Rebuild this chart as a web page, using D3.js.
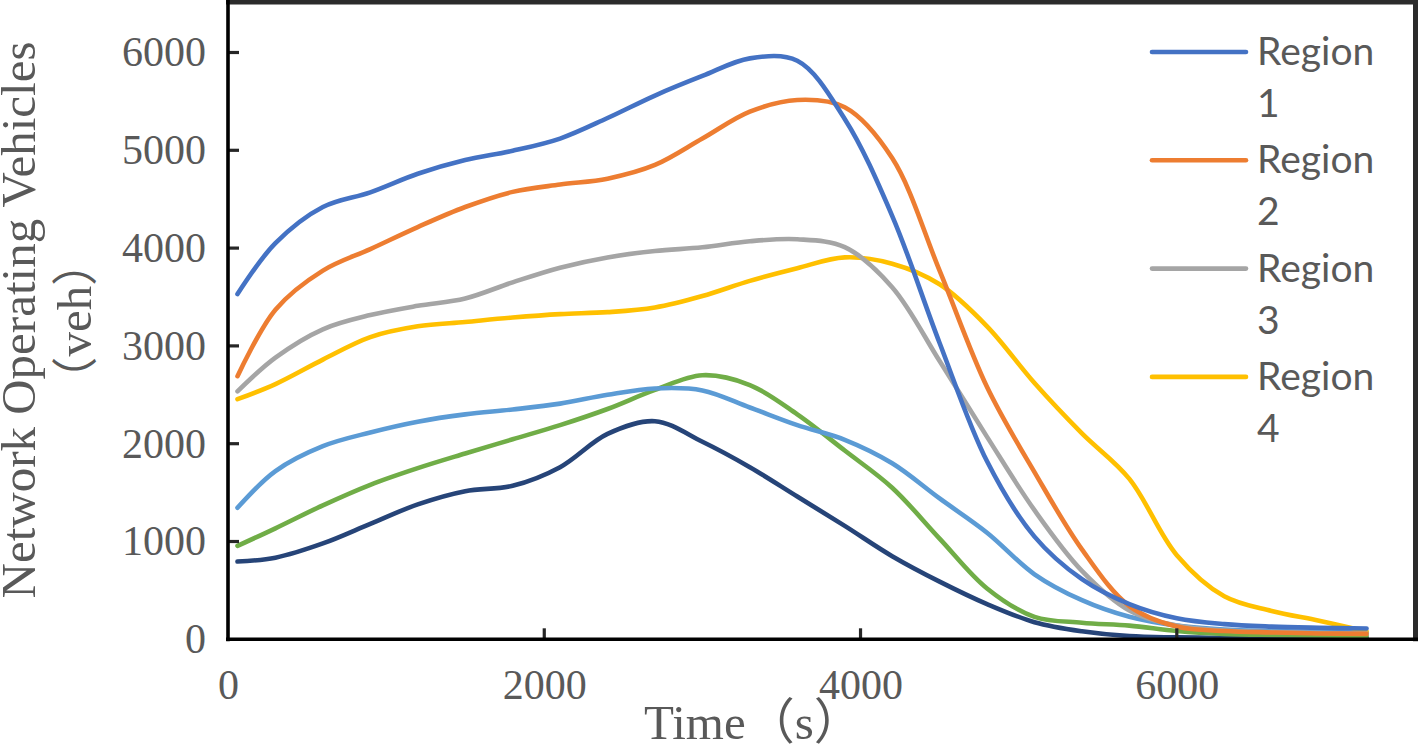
<!DOCTYPE html>
<html>
<head>
<meta charset="utf-8">
<script src="https://cdn.jsdelivr.net/npm/d3@7/dist/d3.min.js"></script>
<style>
  html, body { margin: 0; padding: 0; background: #fff; }
  svg { display: block; }
</style>
</head>
<body>
<svg id="chart" width="1418" height="744"></svg>
<script>
// ---- data ----
const times = [60, 300, 600, 900, 1200, 1500, 1800, 2100, 2400, 2700, 3000, 3300, 3600, 3900,
               4200, 4500, 4800, 5100, 5400, 5700, 6000, 6300, 6600, 6900, 7200];

const region1 = [3530, 4050, 4420, 4570, 4760, 4900, 4995, 5120, 5330, 5560, 5760, 5940, 5915, 5320,
                 4330, 3030, 1820, 1050, 615, 360, 215, 155, 130, 118, 110];
const region2 = [2690, 3370, 3770, 3990, 4215, 4420, 4575, 4650, 4710, 4850, 5120, 5395, 5515, 5440,
                 4920, 3770, 2580, 1710, 920, 340, 130, 85, 70, 60, 55];
const region3 = [2535, 2880, 3170, 3315, 3410, 3485, 3650, 3800, 3905, 3970, 4008, 4070, 4090, 4010,
                 3600, 2845, 2070, 1320, 700, 295, 140, 90, 75, 65, 60];
const region4 = [2455, 2610, 2860, 3090, 3200, 3245, 3290, 3325, 3345, 3393, 3510, 3665, 3795, 3905,
                 3840, 3630, 3200, 2620, 2105, 1640, 860, 440, 290, 190, 80];
const region5 = [1345, 1720, 1975, 2115, 2225, 2300, 2350, 2410, 2500, 2565, 2545, 2370, 2190, 2040,
                 1800, 1440, 1090, 665, 400, 230, 140, 100, 85, 75, 70];
const region6 = [955, 1135, 1370, 1580, 1750, 1900, 2045, 2190, 2355, 2550, 2700, 2600, 2300, 1930,
                 1550, 1030, 520, 230, 170, 140, 85, 55, 45, 40, 35];
const region7 = [795, 835, 980, 1180, 1380, 1515, 1570, 1760, 2100, 2230, 2020, 1760, 1460, 1160,
                 850, 590, 360, 175, 82, 32, 20, 15, 15, 15, 15];

const seriesNames = ["Region 1", "Region 2", "Region 3", "Region 4", "Region 5", "Region 6", "Region 7"];
const seriesValues = [region1, region2, region3, region4, region5, region6, region7];
const seriesColors = ["#4472C4", "#ED7D31", "#A5A5A5", "#FFC000", "#5B9BD5", "#70AD47", "#264478"];
const legendCount = 4;   // only the first four appear in the legend

const xTicks = [0, 2000, 4000, 6000];
const yTicks = [0, 1000, 2000, 3000, 4000, 5000, 6000];
const xDomain = [0, 7500];
const yDomain = [0, 6500];

// ---- layout ----
const svg = d3.select("#chart");
const plotLeft = 228, plotRight = 1414, plotTop = 3.6, plotBottom = 639.3;

const x = d3.scaleLinear().domain(xDomain).range([plotLeft, plotRight]);
const y = d3.scaleLinear().domain(yDomain).range([plotBottom, plotTop]);

const labelColor = "#595959";
const serif = "'Liberation Serif', 'Times New Roman', serif";
const cjk = "'Noto Sans CJK SC', 'Noto Sans CJK JP', sans-serif";

// frame (top and right borders)
svg.append("line").attr("x1", plotLeft - 2).attr("x2", 1418).attr("y1", 2.3).attr("y2", 2.3)
   .attr("stroke", "#2b2b2b").attr("stroke-width", 4.6);
svg.append("line").attr("x1", 1415.5).attr("x2", 1415.5).attr("y1", 0).attr("y2", plotBottom + 2)
   .attr("stroke", "#2b2b2b").attr("stroke-width", 5);

// series lines
const line = d3.line()
  .x((d, i) => x(times[i]))
  .y(d => y(d))
  .curve(d3.curveCatmullRom.alpha(0.5));

const drawOrder = [6, 5, 4, 3, 2, 1, 0];
svg.append("g").selectAll("path")
  .data(drawOrder)
  .join("path")
  .attr("d", i => line(seriesValues[i]))
  .attr("fill", "none")
  .attr("stroke", i => seriesColors[i])
  .attr("stroke-width", 4.6)
  .attr("stroke-linecap", "round")
  .attr("stroke-linejoin", "round");

// axes
const yAxis = d3.axisLeft(y).tickValues(yTicks).tickSize(0).tickPadding(22).tickFormat(d3.format("d"));
const xAxis = d3.axisBottom(x).tickValues(xTicks).tickSize(0).tickPadding(30).tickFormat(d3.format("d"));

const gy = svg.append("g").attr("transform", `translate(${plotLeft},0)`).call(yAxis);
const gx = svg.append("g").attr("transform", `translate(0,${plotBottom})`).call(xAxis);

[gy, gx].forEach(g => {
  g.select(".domain").remove();
  g.selectAll("text")
    .attr("fill", labelColor)
    .style("font-family", serif)
    .style("font-size", "42px");
});
gy.selectAll("text").attr("dy", "0.32em");
gx.selectAll("text").attr("dy", "0.71em");

// inward tick marks
svg.append("g").selectAll("line").data(yTicks.filter(d => d > 0)).join("line")
  .attr("x1", plotLeft).attr("x2", plotLeft + 11)
  .attr("y1", d => y(d)).attr("y2", d => y(d))
  .attr("stroke", "#262626").attr("stroke-width", 3.2);
svg.append("g").selectAll("line").data(xTicks.filter(d => d > 0)).join("line")
  .attr("x1", d => x(d)).attr("x2", d => x(d))
  .attr("y1", plotBottom).attr("y2", plotBottom - 11)
  .attr("stroke", "#262626").attr("stroke-width", 3.2);

// axis lines
svg.append("line").attr("x1", plotLeft).attr("x2", plotLeft).attr("y1", 0).attr("y2", plotBottom + 2)
   .attr("stroke", "#000").attr("stroke-width", 3.6);
svg.append("line").attr("x1", plotLeft - 2).attr("x2", 1418).attr("y1", plotBottom).attr("y2", plotBottom)
   .attr("stroke", "#000").attr("stroke-width", 3.6);

// axis titles
const xt = svg.append("text")
  .attr("x", 644).attr("y", 739)
  .attr("fill", labelColor)
  .style("font-family", serif)
  .style("font-size", "49px");
xt.append("tspan").text("Time");
xt.append("tspan").style("font-family", cjk).style("font-size", "49px").text("（");
xt.append("tspan").text("s");
xt.append("tspan").style("font-family", cjk).style("font-size", "49px").text("）");

svg.append("text")
  .attr("transform", "translate(35,320) rotate(-90)")
  .attr("text-anchor", "middle")
  .attr("fill", labelColor)
  .style("font-family", serif)
  .style("font-size", "49px")
  .text("Network Operating Vehicles");
const yt2 = svg.append("text")
  .attr("transform", "translate(91,321) rotate(-90)")
  .attr("text-anchor", "middle")
  .attr("fill", labelColor)
  .style("font-family", serif)
  .style("font-size", "49px");
yt2.append("tspan").style("font-family", cjk).style("font-size", "46px").text("（");
yt2.append("tspan").text("veh");
yt2.append("tspan").style("font-family", cjk).style("font-size", "46px").text("）");

// legend
const legend = svg.append("g");
const legendY0 = 52, legendStep = 108.3;
const leg = legend.selectAll("g").data(d3.range(legendCount)).join("g")
  .attr("transform", i => `translate(0,${legendY0 + i * legendStep})`);
leg.append("line")
  .attr("x1", 1152).attr("x2", 1246).attr("y1", 0).attr("y2", 0)
  .attr("stroke", i => seriesColors[i]).attr("stroke-width", 4.6)
  .attr("stroke-linecap", "round");
leg.append("text")
  .attr("x", 1257).attr("y", 13)
  .attr("fill", labelColor)
  .style("font-family", "Lato, 'Open Sans', sans-serif")
  .style("font-size", "39px")
  .text(i => seriesNames[i].split(" ")[0]);
leg.append("text")
  .attr("x", 1257).attr("y", 65)
  .attr("fill", labelColor)
  .style("font-family", "Lato, 'Open Sans', sans-serif")
  .style("font-size", "39px")
  .text(i => seriesNames[i].split(" ")[1]);
</script>
</body>
</html>
